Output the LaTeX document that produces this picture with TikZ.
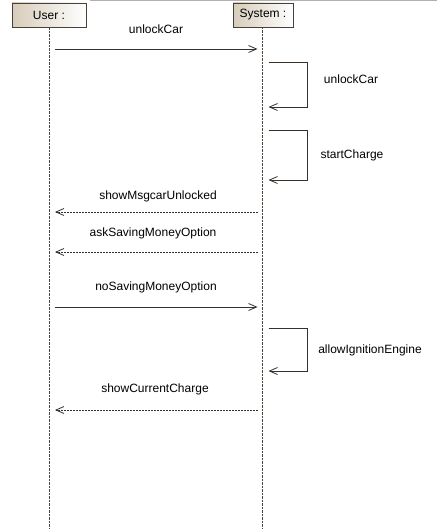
\documentclass[tikz,border=0pt]{standalone}
\usepackage{fontspec}
\setmainfont{Liberation Sans}
\usetikzlibrary{arrows.meta,positioning}

\definecolor{boxline}{HTML}{4A4038}
\definecolor{boxtan}{HTML}{D6CCBA}
\definecolor{lineclr}{HTML}{4E4640}
\definecolor{msgclr}{HTML}{35302C}
\definecolor{topclr}{HTML}{B0B0B0}

\tikzset{
	lifebox/.style={draw=boxline, line width=0.8pt, left color=boxtan, right color=white, minimum height=24pt, inner sep=0pt, font=\fontsize{12}{14}\selectfont},
	lifeline/.style={draw=lineclr, line width=0.7pt, dash pattern=on 2.5pt off 1pt},
	callmsg/.style={draw=msgclr, line width=0.8pt, -{Straight Barb[length=8pt,width=7pt]}},
	replymsg/.style={callmsg, dash pattern=on 2pt off 1pt},
	selfmsg/.style={callmsg, rounded corners=0pt},
	msglabel/.style={font=\fontsize{12}{14}\selectfont, inner sep=0pt}
}

\begin{document}
\begin{tikzpicture}[x=1pt,y=-1pt]
	%%%%% START %%%%%
	\def\xuser{49}
	\def\xsys{262.5}
	\def\dl{6}
	\def\xloop{307}
	\def\ybot{529}

	\useasboundingbox[fill=white] (0,0) rectangle (437,\ybot);
	\draw[topclr, line width=1pt] (90,0.5) -- (437,0.5);

	% lifelines
	\node[lifebox, minimum width=74pt] (user) at (\xuser,15) {User :};
	\node[lifebox, minimum width=60pt] (sys) at (263,15) {System :};
	\coordinate (userend) at (\xuser,\ybot);
	\coordinate (sysend) at (\xsys,\ybot);
	\draw[lifeline] (user.south) -- (userend);
	\draw[lifeline] (\xsys,27) -- (sysend);

	% messages
	\coordinate (u1) at (\xuser+\dl,49);   \coordinate (s1) at (\xsys-\dl+1,49);
	\coordinate (u4) at (\xuser+\dl,212);  \coordinate (s4) at (\xsys-\dl+1,212);
	\coordinate (u5) at (\xuser+\dl,252);  \coordinate (s5) at (\xsys-\dl+1,252);
	\coordinate (u6) at (\xuser+\dl,307);  \coordinate (s6) at (\xsys-\dl+1,307);
	\coordinate (u8) at (\xuser+\dl,410);  \coordinate (s8) at (\xsys-\dl+1,410);

	\draw[callmsg] (u1) -- (s1);
	\draw[replymsg] (s4) -- (u4);
	\draw[replymsg] (s5) -- (u5);
	\draw[callmsg] (u6) -- (s6);
	\draw[replymsg] (s8) -- (u8);

	% self calls
	\coordinate (a2) at (\xsys+\dl,62);   \coordinate (b2) at (\xsys+\dl,107);
	\coordinate (a3) at (\xsys+\dl,130);  \coordinate (b3) at (\xsys+\dl,180);
	\coordinate (a7) at (\xsys+\dl,328);  \coordinate (b7) at (\xsys+\dl,371);

	\draw[selfmsg] (a2) -- (\xloop,62) -- (\xloop,107) -- (b2);
	\draw[selfmsg] (a3) -- (\xloop,130) -- (\xloop,180) -- (b3);
	\draw[selfmsg] (a7) -- (\xloop,328) -- (\xloop,371) -- (b7);

	% labels
	\node[msglabel] (l1) at (156,29) {unlockCar};
	\node[msglabel] (l2) at (351,79) {unlockCar};
	\node[msglabel] (l3) at (352,155) {startCharge};
	\node[msglabel] (l4) at (158,196) {showMsgcarUnlocked};
	\node[msglabel] (l5) at (153,233) {askSavingMoneyOption};
	\node[msglabel] (l6) at (156,287) {noSavingMoneyOption};
	\node[msglabel] (l7) at (370,350) {allowIgnitionEngine};
	\node[msglabel] (l8) at (155,389) {showCurrentCharge};
	%%%%% START %%%%%
\end{tikzpicture}
\end{document}
